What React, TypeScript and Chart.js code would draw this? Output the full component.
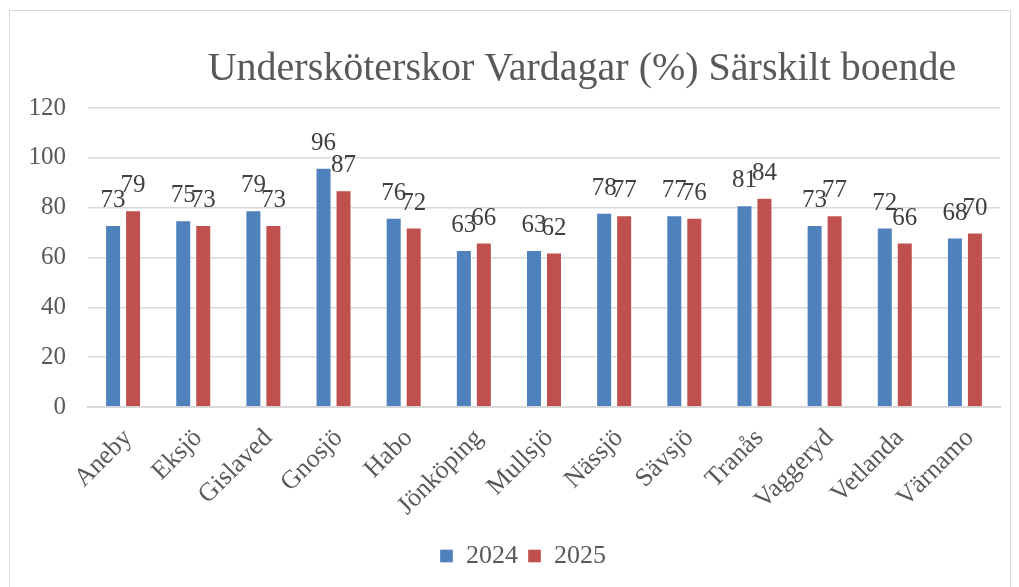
import React, { useEffect, useRef } from "react";
import { Chart, registerables } from "chart.js";

Chart.register(...registerables);

const TITLE = "Undersköterskor Vardagar (%) Särskilt boende";
const CATEGORIES = [
  "Aneby", "Eksjö", "Gislaved", "Gnosjö", "Habo", "Jönköping", "Mullsjö",
  "Nässjö", "Sävsjö", "Tranås", "Vaggeryd", "Vetlanda", "Värnamo",
];
const SERIES_2024 = [73, 75, 79, 96, 76, 63, 63, 78, 77, 81, 73, 72, 68];
const SERIES_2025 = [79, 73, 73, 87, 72, 66, 62, 77, 76, 84, 77, 66, 70];
const SERIES_NAMES = ["2024", "2025"];
const Y_MIN = 0;
const Y_MAX = 120;
const Y_STEP = 20;

const FONT = "'Liberation Serif', 'DejaVu Serif', serif";
const TEXT = "#595959";

const titlePlugin = {
  id: "customTitle",
  afterDraw(chart: any) {
    const ctx = chart.ctx;
    ctx.save();
    ctx.font = `40px ${FONT}`;
    ctx.fillStyle = TEXT;
    ctx.textAlign = "center";
    ctx.textBaseline = "alphabetic";
    ctx.fillText(TITLE, 572, 69);
    ctx.restore();
  },
};

const legendShiftPlugin = {
  id: "legendShift",
  afterLayout(chart: any) {
    const lg = chart.legend;
    if (lg) {
      lg.left += 36;
    }
  },
};

const dataLabelPlugin = {
  id: "dataLabels",
  afterDatasetsDraw(chart: any) {
    const ctx = chart.ctx;
    ctx.save();
    ctx.font = `25px ${FONT}`;
    ctx.fillStyle = "#404040";
    ctx.textAlign = "center";
    ctx.textBaseline = "alphabetic";
    chart.data.datasets.forEach((ds: any, di: number) => {
      const meta = chart.getDatasetMeta(di);
      meta.data.forEach((bar: any, i: number) => {
        ctx.fillText(String(ds.data[i]), bar.x, bar.y - 18);
      });
    });
    ctx.restore();
  },
};

export default function App() {
  const ref = useRef<HTMLCanvasElement>(null);
  useEffect(() => {
    if (!ref.current) return;
    const chart = new Chart(ref.current, {
      type: "bar",
      data: {
        labels: CATEGORIES,
        datasets: [
          {
            label: SERIES_NAMES[0],
            data: SERIES_2024,
            backgroundColor: "#4F81BD",
            borderColor: "rgba(255,255,255,0.35)",
            borderWidth: 1,
            categoryPercentage: 0.57,
            barPercentage: 0.8,
          },
          {
            label: SERIES_NAMES[1],
            data: SERIES_2025,
            backgroundColor: "#C0504D",
            borderColor: "rgba(255,255,255,0.35)",
            borderWidth: 1,
            categoryPercentage: 0.57,
            barPercentage: 0.8,
          },
        ],
      },
      options: {
        responsive: false,
        animation: false,
        layout: { padding: { top: 97, left: 0, right: 10, bottom: 8 } },
        plugins: {
          title: { display: false },
          tooltip: { enabled: false },
          legend: {
            position: "bottom",
            labels: {
              font: { family: FONT, size: 26 },
              color: TEXT,
              boxWidth: 13,
              boxHeight: 13,
              padding: 10,
            },
          },
        },
        scales: {
          x: {
            grid: { display: false },
            border: { color: "#d9d9d9", width: 2 },
            ticks: {
              font: { family: FONT, size: 26 },
              color: TEXT,
              minRotation: 45,
              maxRotation: 45,
              padding: 8,
              labelOffset: 5,
              autoSkip: false,
            },
            afterFit(scale: any) {
              scale.height = 126;
            },
          },
          y: {
            min: Y_MIN,
            max: Y_MAX,
            grid: { color: "#d9d9d9", lineWidth: 1.5, drawTicks: false },
            border: { display: false },
            ticks: {
              stepSize: Y_STEP,
              font: { family: FONT, size: 25 },
              color: TEXT,
              padding: 22,
            },
            afterFit(scale: any) {
              scale.width = 78;
            },
          },
        },
      },
      plugins: [titlePlugin, dataLabelPlugin, legendShiftPlugin],
    });
    return () => chart.destroy();
  }, []);
  return (
    <div
      style={{
        position: "absolute",
        left: 9,
        top: 10,
        width: 1000,
        height: 576,
        border: "1px solid #d9d9d9",
        background: "#fff",
      }}
    >
      <canvas ref={ref} width={1000} height={576} style={{ display: "block" }} />
    </div>
  );
}
